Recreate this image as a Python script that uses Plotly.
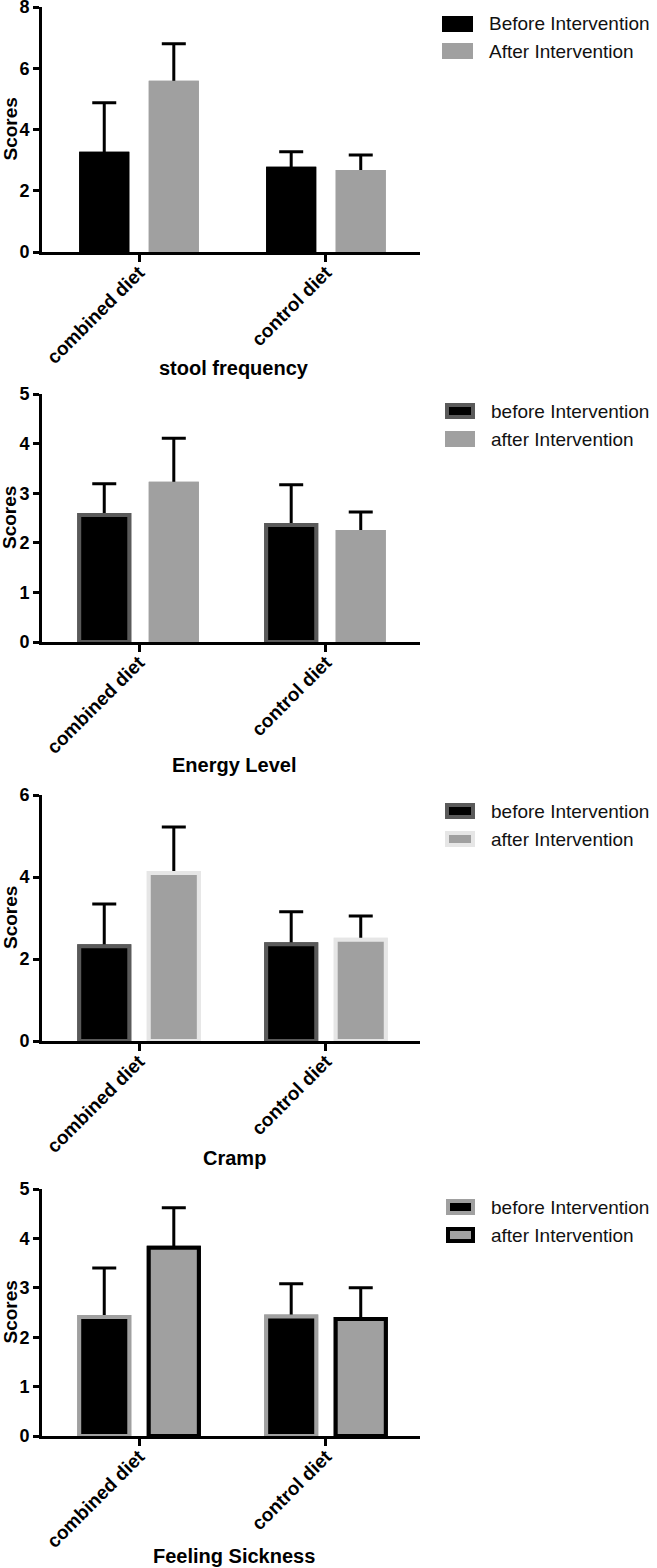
import plotly.graph_objects as go

W, H = 657, 1568

categories = ["combined diet", "control diet"]

panel_titles = ["stool frequency", "Energy Level", "Cramp", "Feeling Sickness"]
legend_before = ["Before Intervention", "before Intervention", "before Intervention", "before Intervention"]
legend_after = ["After Intervention", "after Intervention", "after Intervention", "after Intervention"]

# means and SDs
stool_before = [3.27, 2.78]
stool_before_sd = [1.60, 0.49]
stool_after = [5.59, 2.68]
stool_after_sd = [1.21, 0.49]

energy_before = [2.56, 2.36]
energy_before_sd = [0.63, 0.81]
energy_after = [3.23, 2.26]
energy_after_sd = [0.88, 0.36]

cramp_before = [2.31, 2.36]
cramp_before_sd = [1.03, 0.79]
cramp_after = [4.10, 2.47]
cramp_after_sd = [1.12, 0.58]

sick_before = [2.41, 2.42]
sick_before_sd = [0.99, 0.66]
sick_after = [3.81, 2.37]
sick_after_sd = [0.81, 0.63]

y_max = [8, 5, 6, 5]
y_dtick = [2, 1, 2, 1]

before_vals = [stool_before, energy_before, cramp_before, sick_before]
before_sds = [stool_before_sd, energy_before_sd, cramp_before_sd, sick_before_sd]
after_vals = [stool_after, energy_after, cramp_after, sick_after]
after_sds = [stool_after_sd, energy_after_sd, cramp_after_sd, sick_after_sd]

BLACK = "#000000"
GRAY = "#a0a0a0"
# (fill, outline colour, outline width) per panel
before_style = [(BLACK, BLACK, 0), (BLACK, "#5a5a5a", 4), (BLACK, "#5a5a5a", 4), (BLACK, GRAY, 4)]
after_style = [(GRAY, GRAY, 0), (GRAY, GRAY, 0), (GRAY, "#e6e6e6", 4), (GRAY, BLACK, 4)]

# layout geometry (pixels)
x_left, x_right = 42, 420
panel_px = [(7, 252), (394, 642), (795, 1041), (1189, 1436)]
xtitle_px = [368, 765, 1158, 1556]
legend_rows_px = [(24, 51), (411, 439), (811, 839), (1207, 1235)]
legend_sw_x = [(442, 473), (445, 475), (445, 475), (446, 475)]
legend_text_x = [487, 489, 489, 489]

FONT = "Liberation Sans, Arial, sans-serif"


def py(p):
    return 1 - p / H


def px_(p):
    return p / W


fig = go.Figure()
layout = dict(
    width=W, height=H,
    margin=dict(l=0, r=0, t=0, b=0, autoexpand=False),
    plot_bgcolor="white", paper_bgcolor="white",
    showlegend=False,
    barmode="group", bargap=0.256, bargroupgap=0.28,
    font=dict(family=FONT, color="black"),
)
annotations = []
shapes = []

tickfont = dict(family=FONT, size=18, color="black", weight="bold")

for i in range(4):
    n = "" if i == 0 else str(i + 1)
    no = str(i + 5)
    xa, ya = "x" + n, "y" + n
    xo, yo = "x" + no, "y" + no
    series = [
        (before_vals[i], before_sds[i], before_style[i], legend_before[i]),
        (after_vals[i], after_sds[i], after_style[i], legend_after[i]),
    ]
    # base layer: bars carrying the SD error bars
    for vals, sds, style, name in series:
        fig.add_trace(go.Bar(
            x=categories, y=vals, name=name, xaxis=xa, yaxis=ya,
            marker=dict(color=style[0], line=dict(color=style[1], width=style[2])),
            error_y=dict(type="data", array=sds, symmetric=True,
                         color="black", thickness=3, width=12),
            hoverinfo="skip",
        ))
    # top layer: same bars, hiding the lower half of each error bar
    for vals, sds, style, name in series:
        fig.add_trace(go.Bar(
            x=categories, y=vals, name=name, xaxis=xo, yaxis=yo,
            marker=dict(color=style[0], line=dict(color=style[1], width=style[2])),
        ))
    top, bot = panel_px[i]
    common_x = dict(domain=[px_(x_left), px_(x_right)], range=[-0.519, 1.503],
                    type="category", showgrid=False, zeroline=False, automargin=False)
    common_y = dict(domain=[py(bot), py(top)], range=[0, y_max[i]], dtick=y_dtick[i],
                    tick0=0, showgrid=False, zeroline=False, automargin=False)
    layout["xaxis" + n] = dict(
        common_x, anchor=ya,
        showline=True, linewidth=3, linecolor="black",
        ticks="outside", ticklen=7, tickwidth=3, tickcolor="black",
        tickangle=-45, ticklabelstandoff=-8,
        tickfont=dict(family=FONT, size=19, color="black", weight="bold"),
    )
    layout["yaxis" + n] = dict(
        common_y, anchor=xa,
        showline=True, linewidth=3, linecolor="black",
        ticks="outside", ticklen=6, tickwidth=3, tickcolor="black",
        ticklabeloverflow="allow",
        tickfont=tickfont,
    )
    layout["xaxis" + no] = dict(common_x, anchor=yo, overlaying=xa,
                                showline=False, showticklabels=False, ticks="")
    layout["yaxis" + no] = dict(common_y, anchor=xo, overlaying=ya,
                                showline=False, showticklabels=False, ticks="")
    annotations.append(dict(
        text="<b>Scores</b>", textangle=-90, xref="paper", yref="paper",
        x=px_(10), y=py((top + bot) / 2), xanchor="center", yanchor="middle",
        showarrow=False, font=dict(family=FONT, size=19, color="black"),
    ))
    annotations.append(dict(
        text="<b>" + panel_titles[i] + "</b>", xref="paper", yref="paper",
        x=px_(234), y=py(xtitle_px[i]), xanchor="center", yanchor="middle",
        showarrow=False, font=dict(family=FONT, size=20, color="black"),
    ))
    for (row_y, style, label) in [
        (legend_rows_px[i][0], before_style[i], legend_before[i]),
        (legend_rows_px[i][1], after_style[i], legend_after[i]),
    ]:
        x0, x1 = legend_sw_x[i]
        lw = style[2]
        inset = lw / 2
        shapes.append(dict(
            type="rect", xref="paper", yref="paper",
            x0=px_(x0 + inset), x1=px_(x1 - inset),
            y0=py(row_y + 8 - inset), y1=py(row_y - 8 + inset),
            fillcolor=style[0],
            line=dict(color=style[1], width=lw),
        ))
        annotations.append(dict(
            text=label, xref="paper", yref="paper",
            x=px_(legend_text_x[i]), y=py(row_y), xanchor="left", yanchor="middle",
            showarrow=False, font=dict(family=FONT, size=19, color="#111111"),
        ))

layout["annotations"] = annotations
layout["shapes"] = shapes
fig.update_layout(**layout)
fig.write_html("out.html", config={"displayModeBar": False},
               post_script="document.documentElement.style.margin='0';document.body.style.margin='0';document.body.style.padding='0';document.body.style.overflow='hidden';")
